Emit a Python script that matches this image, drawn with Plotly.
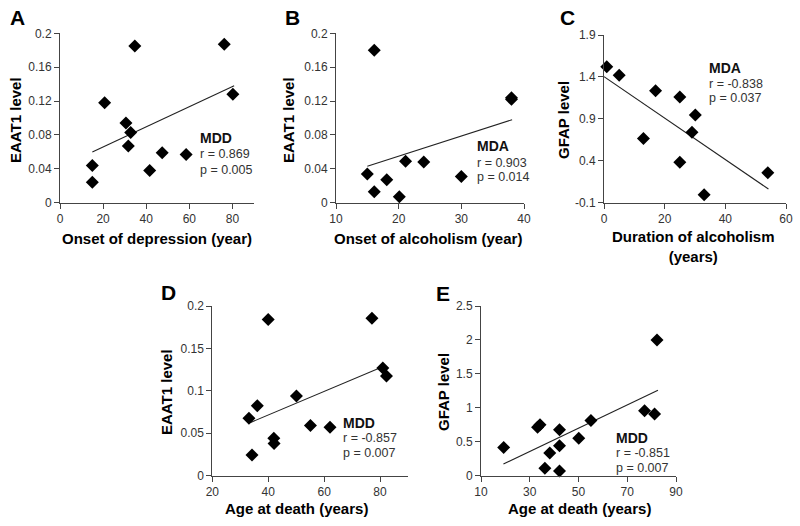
import plotly.graph_objects as go

# A: EAAT1 vs onset of depression (MDD)
a_x = [15, 15, 20.7, 30.6, 32.8, 31.7, 34.7, 41.6, 47.4, 58.5, 76.2, 80.2]
a_y = [0.044, 0.024, 0.118, 0.094, 0.083, 0.067, 0.185, 0.038, 0.059, 0.057, 0.187, 0.128]
a_fit_x = [15, 80.8]
a_fit_y = [0.060, 0.138]

# B: EAAT1 vs onset of alcoholism (MDA)
b_x = [16.1, 38, 38, 15, 16.1, 18.1, 20.1, 21.1, 24, 30]
b_y = [0.180, 0.124, 0.122, 0.034, 0.013, 0.027, 0.007, 0.049, 0.048, 0.031]
b_fit_x = [15, 38.1]
b_fit_y = [0.043, 0.098]

# C: GFAP vs duration of alcoholism (MDA)
c_x = [0.9, 5, 17, 25, 30.1, 29, 13, 25, 33, 54]
c_y = [1.52, 1.42, 1.236, 1.16, 0.946, 0.739, 0.667, 0.381, -0.005, 0.258]
c_fit_x = [0, 54.2]
c_fit_y = [1.403, 0.063]

# D: EAAT1 vs age at death (MDD)
d_x = [40, 77.1, 81, 82.3, 50.1, 36.1, 33.1, 55.1, 62.1, 42, 42.1, 34.2]
d_y = [0.184, 0.1855, 0.127, 0.1175, 0.094, 0.0825, 0.0676, 0.0593, 0.057, 0.044, 0.038, 0.0244]
d_fit_x = [33.5, 82]
d_fit_y = [0.0625, 0.130]

# E: GFAP vs age at death (MDD)
e_x = [19.3, 33.2, 34.2, 42.2, 38.2, 36.2, 42.2, 42.2, 50.1, 55.1, 77.1, 81.2, 82.2]
e_y = [0.417, 0.712, 0.751, 0.678, 0.334, 0.108, 0.069, 0.442, 0.55, 0.815, 0.958, 0.909, 1.999]
e_fit_x = [19.2, 82.6]
e_fit_y = [0.172, 1.257]

stats = {
    "A": ("MDD", "r = 0.869", "p = 0.005"),
    "B": ("MDA", "r = 0.903", "p = 0.014"),
    "C": ("MDA", "r = -0.838", "p = 0.037"),
    "D": ("MDD", "r = -0.857", "p = 0.007"),
    "E": ("MDD", "r = -0.851", "p = 0.007"),
}

FONT = "Liberation Sans, Arial, sans-serif"
W, H = 800, 526


def px(x):
    return x / W


def py(y):
    return 1 - y / H


panels = [
    # name, xs, ys, fit, xdomain px, ydomain px, xrange, xticks, yrange, yticks, yticktext,
    # stats text: left px, line centres px
    ("A", a_x, a_y, a_fit_x, a_fit_y, (60, 254), (33.3, 202.7), [0, 90], [0, 20, 40, 60, 80],
     [0, 0.2], [0, 0.04, 0.08, 0.12, 0.16, 0.2], ["0", "0.04", "0.08", "0.12", "0.16", "0.2"],
     (198, (138, 154, 169.5))),
    ("B", b_x, b_y, b_fit_x, b_fit_y, (336, 524), (33.3, 202.7), [10, 40], [10, 20, 30, 40],
     [0, 0.2], [0, 0.04, 0.08, 0.12, 0.16, 0.2], ["0", "0.04", "0.08", "0.12", "0.16", "0.2"],
     (475, (146.5, 162.5, 177.5))),
    ("C", c_x, c_y, c_fit_x, c_fit_y, (604, 786), (35, 202.7), [0, 60], [0, 20, 40, 60],
     [-0.1, 1.9], [-0.1, 0.4, 0.9, 1.4, 1.9], ["-0.1", "0.4", "0.9", "1.4", "1.9"],
     (707, (68, 83.5, 98.5))),
    ("D", d_x, d_y, d_fit_x, d_fit_y, (212.3, 408), (306, 475.7), [20, 90], [20, 40, 60, 80],
     [0, 0.2], [0, 0.05, 0.1, 0.15, 0.2], ["0", "0.05", "0.1", "0.15", "0.2"],
     (341, (423, 438, 453))),
    ("E", e_x, e_y, e_fit_x, e_fit_y, (481, 676), (306, 475.7), [10, 90], [10, 30, 50, 70, 90],
     [0, 2.5], [0, 0.5, 1, 1.5, 2, 2.5], ["0", "0.5", "1", "1.5", "2", "2.5"],
     (614, (438, 453, 467.5))),
]

fig = go.Figure()
annotations = []

for i, (name, xs, ys, fx, fy, xd, yd, xr, xt, yr, yt, ytt, tpos) in enumerate(panels):
    n = "" if i == 0 else str(i + 1)
    xa, ya = "x" + n, "y" + n
    fig.add_trace(go.Scatter(x=fx, y=fy, mode="lines", xaxis=xa, yaxis=ya, hoverinfo="skip",
                             line=dict(color="#222", width=1.1), showlegend=False))
    fig.add_trace(go.Scatter(x=xs, y=ys, mode="markers", xaxis=xa, yaxis=ya, cliponaxis=False,
                             hoverinfo="skip",
                             marker=dict(symbol="diamond", size=10, color="black"), showlegend=False))
    axis_common = dict(showline=True, linecolor="#444", linewidth=1, ticks="outside", ticklen=5,
                       tickcolor="#444", showgrid=False, zeroline=False, automargin=False,
                       showspikes=False,
                       tickfont=dict(family=FONT, size=12, color="#333"))
    fig.update_layout({
        "xaxis" + n: dict(domain=[px(xd[0]), px(xd[1])], range=xr, tickvals=xt, anchor=ya, **axis_common),
        "yaxis" + n: dict(domain=[py(yd[1]), py(yd[0])], range=yr, tickvals=yt, ticktext=ytt,
                          anchor=xa, **axis_common),
    })
    grp, r, p = stats[name]
    left, rows = tpos
    for txt, yy, size, col in [("<b>%s</b>" % grp, rows[0], 14, "#111"),
                               (r, rows[1], 12.5, "#333"), (p, rows[2], 12.5, "#333")]:
        annotations.append(dict(
            x=px(left), y=py(yy), xref="paper", yref="paper", xanchor="left", yanchor="middle",
            showarrow=False, text=txt, font=dict(family=FONT, size=size, color=col)))

# panel letters
for letter, x, y in [("A", 17, 18), ("B", 292, 18), ("C", 567, 18), ("D", 168, 292), ("E", 443, 293)]:
    annotations.append(dict(x=px(x), y=py(y), xref="paper", yref="paper", showarrow=False,
                            xanchor="center", yanchor="middle",
                            text="<b>%s</b>" % letter, font=dict(family=FONT, size=21, color="black")))

# y axis titles
for t, x, y in [("EAAT1 level", 16, 120), ("EAAT1 level", 289, 120), ("GFAP level", 564, 120),
                ("EAAT1 level", 166, 392), ("GFAP level", 443, 392)]:
    annotations.append(dict(x=px(x), y=py(y), xref="paper", yref="paper", showarrow=False, textangle=-90,
                            xanchor="center", yanchor="middle",
                            text="<b>%s</b>" % t, font=dict(family=FONT, size=15, color="black")))

# x axis titles
for t, x, y in [("Onset of depression (year)", 157, 238), ("Onset of alcoholism (year)", 428, 238),
                ("Duration of alcoholism<br>(years)", 693, 246),
                ("Age at death (years)", 296, 508), ("Age at death (years)", 579, 508)]:
    annotations.append(dict(x=px(x), y=py(y), xref="paper", yref="paper", showarrow=False,
                            xanchor="center", yanchor="middle",
                            text="<b>%s</b>" % t, font=dict(family=FONT, size=15, color="black")))

fig.update_layout(width=W, height=H, margin=dict(l=0, r=0, t=0, b=0, autoexpand=False),
                  plot_bgcolor="white", paper_bgcolor="white", hovermode=False,
                  annotations=annotations)

# drop the default page margin so the figure fills the window exactly
fig.write_html("out.html", config={"displayModeBar": False, "staticPlot": True},
               post_script="document.body.style.margin = '0px';")
